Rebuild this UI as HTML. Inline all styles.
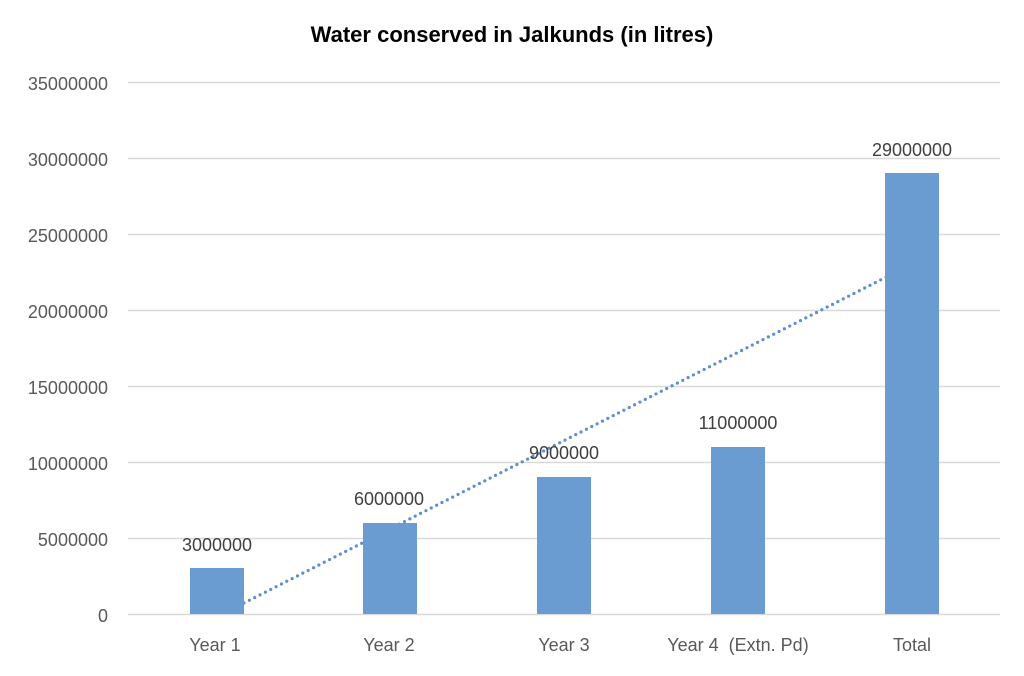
<!DOCTYPE html>
<html><head><meta charset="utf-8"><style>
html,body{margin:0;padding:0;background:#fff;}
</style></head><body>
<svg width="1024" height="671" xmlns="http://www.w3.org/2000/svg" font-family="Liberation Sans, sans-serif">
<rect width="1024" height="671" fill="#fff"/>
<text x="512" y="42" text-anchor="middle" font-size="22" font-weight="bold" fill="#000">Water conserved in Jalkunds (in litres)</text>
<g stroke="#d9d9d9" stroke-width="1.5">
<line x1="128" x2="1000" y1="82.5" y2="82.5"/>
<line x1="128" x2="1000" y1="158.5" y2="158.5"/>
<line x1="128" x2="1000" y1="234.5" y2="234.5"/>
<line x1="128" x2="1000" y1="310.5" y2="310.5"/>
<line x1="128" x2="1000" y1="386.5" y2="386.5"/>
<line x1="128" x2="1000" y1="462.5" y2="462.5"/>
<line x1="128" x2="1000" y1="538.5" y2="538.5"/>
<line x1="128" x2="1000" y1="614.5" y2="614.5"/>
</g>
<g font-size="18" fill="#595959" text-anchor="end">
<text x="108" y="90">35000000</text>
<text x="108" y="166">30000000</text>
<text x="108" y="242">25000000</text>
<text x="108" y="318">20000000</text>
<text x="108" y="394">15000000</text>
<text x="108" y="470">10000000</text>
<text x="108" y="546">5000000</text>
<text x="108" y="622">0</text>
</g>
<line x1="244" y1="603" x2="912" y2="264" stroke="#5b8fd0" stroke-width="3.2" stroke-dasharray="0,6" stroke-linecap="round"/>
<g fill="#6a9bd1">
<rect x="190" y="568" width="54" height="46"/>
<rect x="363" y="523" width="54" height="91"/>
<rect x="537" y="477" width="54" height="137"/>
<rect x="711" y="447" width="54" height="167"/>
<rect x="885" y="173" width="54" height="441"/>
</g>
<g font-size="18" fill="#404040" text-anchor="middle">
<text x="217" y="551">3000000</text>
<text x="389" y="505">6000000</text>
<text x="564" y="459">9000000</text>
<text x="738" y="429">11000000</text>
<text x="912" y="156">29000000</text>
</g>
<g font-size="18" fill="#595959" text-anchor="middle">
<text x="215" y="651">Year 1</text>
<text x="389" y="651">Year 2</text>
<text x="564" y="651">Year 3</text>
<text x="738" y="651" xml:space="preserve">Year 4  (Extn. Pd)</text>
<text x="912" y="651">Total</text>
</g>
</svg>
</body></html>
